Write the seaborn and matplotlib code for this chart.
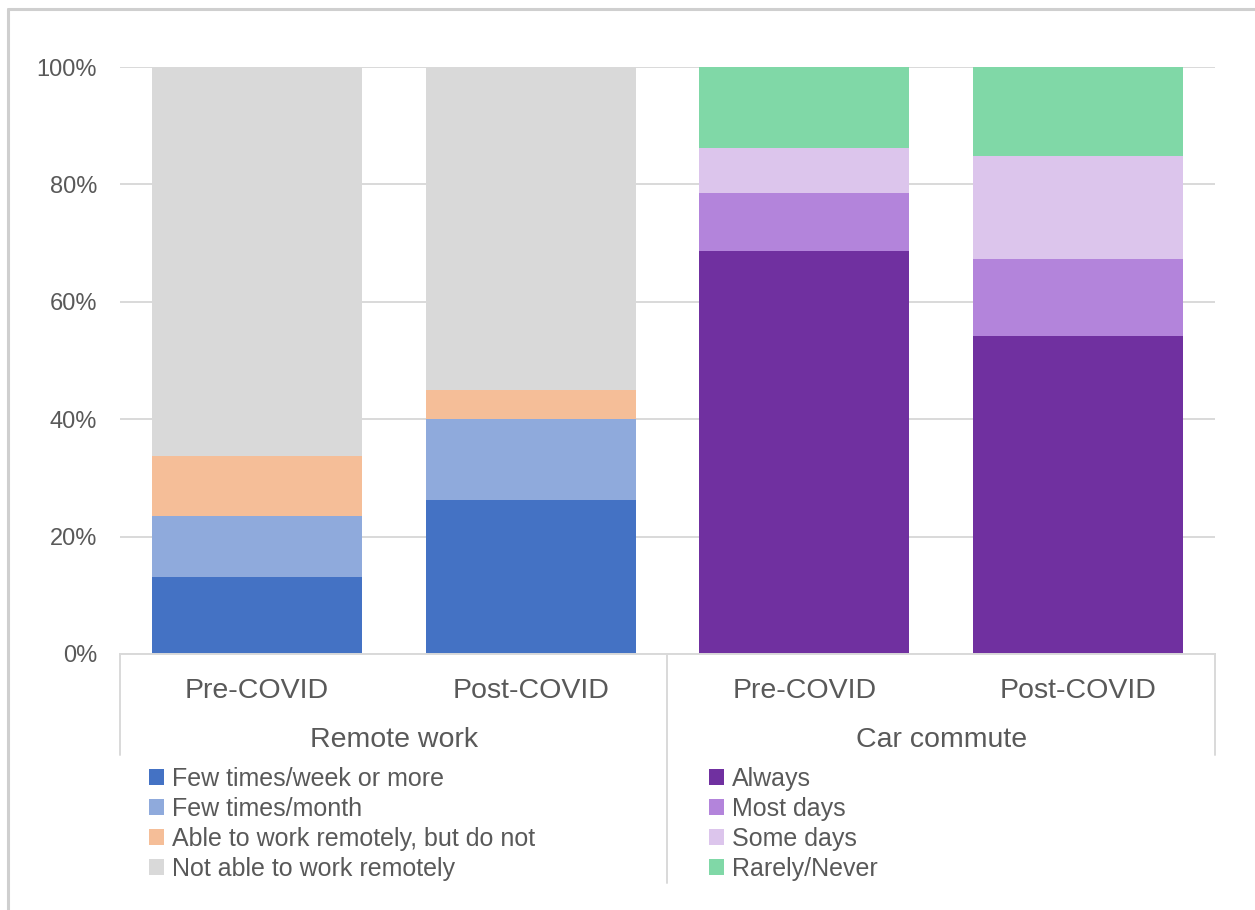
import numpy as np
import pandas as pd
import matplotlib
matplotlib.use("Agg")
import matplotlib.pyplot as plt
from matplotlib.patches import Patch
from matplotlib.lines import Line2D
from matplotlib.transforms import blended_transform_factory
import seaborn as sns

# data (shares, %)
groups = ["Remote work", "Car commute"]
periods = ["Pre-COVID", "Post-COVID"]

remote_labels = ["Few times/week or more", "Few times/month",
                 "Able to work remotely, but do not", "Not able to work remotely"]
remote_pre = [13.1, 10.4, 10.2, 66.3]
remote_post = [26.2, 13.8, 5.0, 55.0]
remote_colors = ["#4472C4", "#8FAADC", "#F5BE98", "#D9D9D9"]

car_labels = ["Always", "Most days", "Some days", "Rarely/Never"]
car_pre = [68.7, 9.8, 7.7, 13.8]
car_post = [54.2, 13.1, 17.5, 15.2]
car_colors = ["#7030A0", "#B384DB", "#DCC5EC", "#80D8A7"]

keys = [g + "|" + p for g in groups for p in periods]

sns.set_theme(style="white")
plt.rcParams["font.family"] = ["Liberation Sans", "DejaVu Sans"]
txt = "#595959"
grid_c = "#D9D9D9"

fig = plt.figure(figsize=(12.55, 9.10), dpi=100)
L, R, B, T = 120 / 1255, 1215 / 1255, 1 - 654 / 910, 1 - 67 / 910
ax = fig.add_axes([L, B, R - L, T - B])

rows = []
for g, labels, vals_pre, vals_post in [("Remote work", remote_labels, remote_pre, remote_post),
                                       ("Car commute", car_labels, car_pre, car_post)]:
    for p, vals in [("Pre-COVID", vals_pre), ("Post-COVID", vals_post)]:
        tops = np.cumsum(vals)
        for i, (lab, t) in enumerate(zip(labels, tops)):
            rows.append(dict(key=g + "|" + p, group=g, layer=i, label=lab, top=t))
df = pd.DataFrame(rows)

# draw top layers first, lower layers painted over them
for g, colors in [("Remote work", remote_colors), ("Car commute", car_colors)]:
    for i in reversed(range(4)):
        sub = df[(df.group == g) & (df.layer == i)]
        sns.barplot(data=sub, x="key", y="top", order=keys, color=colors[i],
                    saturation=1, width=0.767, ax=ax, errorbar=None, zorder=2,
                    linewidth=0, edgecolor="none")

ax.set_ylim(0, 100)
ax.set_xlim(-0.5, 3.5)
ax.set_yticks(range(0, 101, 20))
ax.set_yticklabels([f"{v}%" for v in range(0, 101, 20)])
ax.yaxis.grid(True, color=grid_c, lw=1.4, zorder=0)
ax.set_axisbelow(True)
for s in ax.spines.values():
    s.set_visible(False)
ax.spines["bottom"].set_visible(True)
ax.spines["bottom"].set_color(grid_c)
ax.spines["bottom"].set_linewidth(1.4)
ax.set_xlabel("")
ax.set_ylabel("")
ax.tick_params(axis="y", length=0, pad=16.5, labelsize=17, labelcolor=txt)
ax.set_xticks(range(4))
ax.set_xticklabels([k.split("|")[1] for k in keys])
ax.tick_params(axis="x", length=0, pad=17, labelsize=20.5, labelcolor=txt)

trans = blended_transform_factory(ax.transData, fig.transFigure)
for gi, g in enumerate(groups):
    ax.text(gi * 2 + 0.5, 1 - 740 / 910, g, transform=trans, ha="center", va="center",
            fontsize=20.5, color=txt)

# category separators below the axis
def vline(xp, y0, y1):
    fig.add_artist(Line2D([xp / 1255, xp / 1255], [1 - y0 / 910, 1 - y1 / 910],
                          color=grid_c, lw=1.4))

vline(120, 654, 755)
vline(667, 654, 883)
vline(1215, 654, 755)

# figure border (left and top edges visible)
fig.add_artist(Line2D([8 / 1255, 8 / 1255], [0, 1 - 9 / 910], color="#CFCFCF", lw=2.2))
fig.add_artist(Line2D([8 / 1255, 1], [1 - 9 / 910, 1 - 9 / 910], color="#CFCFCF", lw=2.2))

# legends
for labels, colors, x0 in [(remote_labels, remote_colors, 149), (car_labels, car_colors, 709)]:
    handles = [Patch(facecolor=c, edgecolor="none") for c in colors]
    fig.legend(handles, labels, loc="upper left",
               bbox_to_anchor=(x0 / 1255, 1 - 767 / 910), frameon=False,
               fontsize=18, labelcolor=txt, handlelength=0.6, handleheight=0.6,
               handletextpad=0.3, labelspacing=0.24, borderpad=0, borderaxespad=0)

fig.savefig("out.png", dpi=100)
